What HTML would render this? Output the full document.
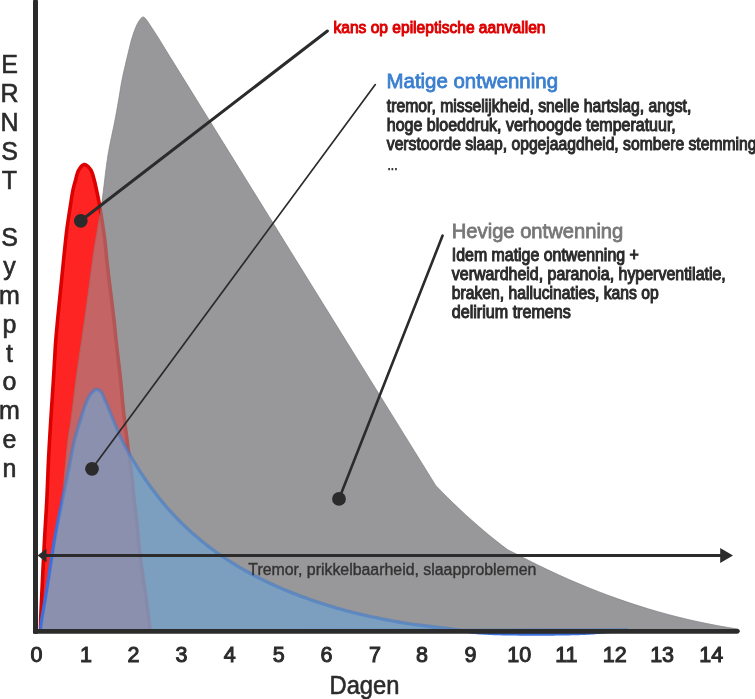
<!DOCTYPE html>
<html><head><meta charset="utf-8"><style>
html,body{margin:0;padding:0;background:#fff;}
body{width:755px;height:699px;position:relative;overflow:hidden;font-family:"Liberation Sans",sans-serif;}
</style></head><body>
<svg width="755" height="699" viewBox="0 0 755 699" style="position:absolute;left:0;top:0;display:block;will-change:transform">
<defs>
<clipPath id="cg"><path d="M41.50,631.00 L41.68,629.62 L41.84,628.31 L42.03,626.85 L42.30,625.00 L42.66,622.70 L43.11,619.95 L43.64,616.83 L44.24,613.39 L44.87,609.70 L45.54,605.84 L46.22,601.87 L46.90,597.87 L47.57,593.88 L48.20,590.00 L48.94,585.34 L49.69,580.48 L50.45,575.48 L51.21,570.37 L51.98,565.21 L52.76,560.03 L53.53,554.87 L54.29,549.78 L55.05,544.81 L55.80,540.00 L56.48,535.79 L57.18,531.62 L57.89,527.49 L58.59,523.41 L59.29,519.37 L59.97,515.38 L60.62,511.45 L61.24,507.57 L61.80,503.75 L62.30,500.00 L62.68,496.83 L63.01,493.73 L63.30,490.69 L63.56,487.70 L63.80,484.74 L64.03,481.80 L64.25,478.87 L64.48,475.93 L64.73,472.98 L65.00,470.00 L65.28,466.97 L65.57,463.90 L65.86,460.81 L66.14,457.70 L66.44,454.62 L66.73,451.56 L67.04,448.55 L67.35,445.61 L67.67,442.75 L68.00,440.00 L68.28,437.86 L68.56,435.85 L68.85,433.92 L69.14,432.04 L69.44,430.17 L69.74,428.30 L70.05,426.38 L70.36,424.38 L70.68,422.26 L71.00,420.00 L71.46,416.59 L71.91,413.01 L72.38,409.26 L72.85,405.38 L73.33,401.36 L73.83,397.24 L74.34,393.02 L74.87,388.73 L75.42,384.39 L76.00,380.00 L76.76,374.43 L77.58,368.58 L78.45,362.51 L79.35,356.29 L80.27,350.00 L81.19,343.71 L82.09,337.49 L82.98,331.42 L83.82,325.56 L84.60,320.00 L85.20,315.65 L85.78,311.39 L86.35,307.23 L86.90,303.14 L87.44,299.14 L87.96,295.20 L88.48,291.32 L88.99,287.50 L89.50,283.73 L90.00,280.00 L90.42,276.85 L90.83,273.82 L91.21,270.87 L91.60,267.98 L91.98,265.10 L92.36,262.22 L92.76,259.30 L93.18,256.31 L93.62,253.22 L94.10,250.00 L94.74,245.88 L95.43,241.62 L96.17,237.24 L96.93,232.77 L97.71,228.22 L98.50,223.61 L99.29,218.97 L100.05,214.30 L100.80,209.64 L101.50,205.00 L102.19,200.07 L102.85,195.03 L103.48,189.91 L104.10,184.76 L104.71,179.60 L105.32,174.48 L105.95,169.42 L106.59,164.46 L107.28,159.64 L108.00,155.00 L108.65,151.19 L109.35,147.43 L110.08,143.72 L110.82,140.07 L111.57,136.49 L112.32,132.99 L113.04,129.58 L113.74,126.28 L114.40,123.08 L115.00,120.00 L115.42,117.78 L115.82,115.65 L116.19,113.60 L116.55,111.60 L116.90,109.66 L117.24,107.74 L117.58,105.83 L117.92,103.91 L118.25,101.98 L118.60,100.00 L118.94,98.02 L119.26,96.06 L119.57,94.12 L119.88,92.19 L120.19,90.24 L120.51,88.28 L120.84,86.29 L121.20,84.25 L121.58,82.16 L122.00,80.00 L122.58,77.17 L123.24,74.12 L123.95,70.93 L124.70,67.65 L125.47,64.36 L126.23,61.12 L126.98,58.00 L127.68,55.06 L128.33,52.37 L128.90,50.00 L129.37,48.02 L129.79,46.26 L130.17,44.66 L130.55,43.13 L130.95,41.60 L131.40,40.00 L131.91,38.29 L132.46,36.53 L133.03,34.77 L133.60,33.07 L134.17,31.46 L134.70,30.00 L135.40,28.18 L136.07,26.57 L136.80,25.00 L137.55,23.44 L138.35,21.92 L139.30,20.50 L140.50,18.96 L141.85,17.53 L143.20,16.90 L144.50,17.54 L145.80,18.97 L147.00,20.50 L148.06,21.93 L149.02,23.45 L150.00,25.00 L151.05,26.58 L152.12,28.19 L153.30,30.00 L154.25,31.47 L155.29,33.07 L156.39,34.78 L157.51,36.53 L158.62,38.29 L159.70,40.00 L160.75,41.69 L161.81,43.42 L162.86,45.16 L163.89,46.85 L164.87,48.48 L165.80,50.00 L166.79,51.61 L167.71,53.10 L168.60,54.54 L169.50,56.00 L434.30,483.20 L435.70,485.44 L441.71,491.63 L447.72,497.67 L453.73,503.56 L459.73,509.30 L465.74,514.89 L471.75,520.33 L477.76,525.62 L483.77,530.76 L489.77,535.74 L495.78,540.58 L501.79,545.27 L507.80,549.81 L517.81,554.84 L527.82,560.02 L537.83,565.02 L547.83,569.85 L557.84,574.51 L567.85,578.99 L577.86,583.31 L587.87,587.45 L597.88,591.43 L607.89,595.23 L617.90,598.86 L627.90,602.32 L637.91,605.60 L647.92,608.72 L657.93,611.66 L667.94,614.44 L677.95,617.04 L687.96,619.47 L697.97,621.72 L707.97,623.81 L717.98,625.72 L727.99,627.47 L738.00,629.04 L739.50,631.00 Z"/></clipPath>
<mask id="mg" maskUnits="userSpaceOnUse" x="0" y="0" width="755" height="699"><rect width="755" height="699" fill="#fff"/><path d="M41.50,631.00 L41.68,629.62 L41.84,628.31 L42.03,626.85 L42.30,625.00 L42.66,622.70 L43.11,619.95 L43.64,616.83 L44.24,613.39 L44.87,609.70 L45.54,605.84 L46.22,601.87 L46.90,597.87 L47.57,593.88 L48.20,590.00 L48.94,585.34 L49.69,580.48 L50.45,575.48 L51.21,570.37 L51.98,565.21 L52.76,560.03 L53.53,554.87 L54.29,549.78 L55.05,544.81 L55.80,540.00 L56.48,535.79 L57.18,531.62 L57.89,527.49 L58.59,523.41 L59.29,519.37 L59.97,515.38 L60.62,511.45 L61.24,507.57 L61.80,503.75 L62.30,500.00 L62.68,496.83 L63.01,493.73 L63.30,490.69 L63.56,487.70 L63.80,484.74 L64.03,481.80 L64.25,478.87 L64.48,475.93 L64.73,472.98 L65.00,470.00 L65.28,466.97 L65.57,463.90 L65.86,460.81 L66.14,457.70 L66.44,454.62 L66.73,451.56 L67.04,448.55 L67.35,445.61 L67.67,442.75 L68.00,440.00 L68.28,437.86 L68.56,435.85 L68.85,433.92 L69.14,432.04 L69.44,430.17 L69.74,428.30 L70.05,426.38 L70.36,424.38 L70.68,422.26 L71.00,420.00 L71.46,416.59 L71.91,413.01 L72.38,409.26 L72.85,405.38 L73.33,401.36 L73.83,397.24 L74.34,393.02 L74.87,388.73 L75.42,384.39 L76.00,380.00 L76.76,374.43 L77.58,368.58 L78.45,362.51 L79.35,356.29 L80.27,350.00 L81.19,343.71 L82.09,337.49 L82.98,331.42 L83.82,325.56 L84.60,320.00 L85.20,315.65 L85.78,311.39 L86.35,307.23 L86.90,303.14 L87.44,299.14 L87.96,295.20 L88.48,291.32 L88.99,287.50 L89.50,283.73 L90.00,280.00 L90.42,276.85 L90.83,273.82 L91.21,270.87 L91.60,267.98 L91.98,265.10 L92.36,262.22 L92.76,259.30 L93.18,256.31 L93.62,253.22 L94.10,250.00 L94.74,245.88 L95.43,241.62 L96.17,237.24 L96.93,232.77 L97.71,228.22 L98.50,223.61 L99.29,218.97 L100.05,214.30 L100.80,209.64 L101.50,205.00 L102.19,200.07 L102.85,195.03 L103.48,189.91 L104.10,184.76 L104.71,179.60 L105.32,174.48 L105.95,169.42 L106.59,164.46 L107.28,159.64 L108.00,155.00 L108.65,151.19 L109.35,147.43 L110.08,143.72 L110.82,140.07 L111.57,136.49 L112.32,132.99 L113.04,129.58 L113.74,126.28 L114.40,123.08 L115.00,120.00 L115.42,117.78 L115.82,115.65 L116.19,113.60 L116.55,111.60 L116.90,109.66 L117.24,107.74 L117.58,105.83 L117.92,103.91 L118.25,101.98 L118.60,100.00 L118.94,98.02 L119.26,96.06 L119.57,94.12 L119.88,92.19 L120.19,90.24 L120.51,88.28 L120.84,86.29 L121.20,84.25 L121.58,82.16 L122.00,80.00 L122.58,77.17 L123.24,74.12 L123.95,70.93 L124.70,67.65 L125.47,64.36 L126.23,61.12 L126.98,58.00 L127.68,55.06 L128.33,52.37 L128.90,50.00 L129.37,48.02 L129.79,46.26 L130.17,44.66 L130.55,43.13 L130.95,41.60 L131.40,40.00 L131.91,38.29 L132.46,36.53 L133.03,34.77 L133.60,33.07 L134.17,31.46 L134.70,30.00 L135.40,28.18 L136.07,26.57 L136.80,25.00 L137.55,23.44 L138.35,21.92 L139.30,20.50 L140.50,18.96 L141.85,17.53 L143.20,16.90 L144.50,17.54 L145.80,18.97 L147.00,20.50 L148.06,21.93 L149.02,23.45 L150.00,25.00 L151.05,26.58 L152.12,28.19 L153.30,30.00 L154.25,31.47 L155.29,33.07 L156.39,34.78 L157.51,36.53 L158.62,38.29 L159.70,40.00 L160.75,41.69 L161.81,43.42 L162.86,45.16 L163.89,46.85 L164.87,48.48 L165.80,50.00 L166.79,51.61 L167.71,53.10 L168.60,54.54 L169.50,56.00 L434.30,483.20 L435.70,485.44 L441.71,491.63 L447.72,497.67 L453.73,503.56 L459.73,509.30 L465.74,514.89 L471.75,520.33 L477.76,525.62 L483.77,530.76 L489.77,535.74 L495.78,540.58 L501.79,545.27 L507.80,549.81 L517.81,554.84 L527.82,560.02 L537.83,565.02 L547.83,569.85 L557.84,574.51 L567.85,578.99 L577.86,583.31 L587.87,587.45 L597.88,591.43 L607.89,595.23 L617.90,598.86 L627.90,602.32 L637.91,605.60 L647.92,608.72 L657.93,611.66 L667.94,614.44 L677.95,617.04 L687.96,619.47 L697.97,621.72 L707.97,623.81 L717.98,625.72 L727.99,627.47 L738.00,629.04 L739.50,631.00 Z" fill="#000"/></mask>
</defs>
<path id="red" d="M40.50,631.00 L40.49,629.62 L40.48,628.31 L40.47,626.85 L40.50,625.00 L40.56,622.70 L40.66,619.96 L40.78,616.83 L40.92,613.39 L41.08,609.70 L41.26,605.84 L41.44,601.87 L41.63,597.86 L41.82,593.88 L42.00,590.00 L42.22,585.33 L42.45,580.48 L42.69,575.48 L42.94,570.37 L43.20,565.21 L43.46,560.02 L43.72,554.87 L43.98,549.78 L44.24,544.81 L44.50,540.00 L44.73,535.82 L44.97,531.71 L45.20,527.67 L45.44,523.68 L45.68,519.72 L45.92,515.79 L46.15,511.86 L46.38,507.93 L46.59,503.98 L46.80,500.00 L47.00,495.94 L47.18,491.78 L47.36,487.57 L47.53,483.34 L47.70,479.14 L47.86,475.01 L48.02,470.99 L48.18,467.12 L48.34,463.44 L48.50,460.00 L48.61,457.72 L48.72,455.56 L48.83,453.49 L48.94,451.51 L49.05,449.57 L49.16,447.67 L49.27,445.78 L49.37,443.89 L49.49,441.97 L49.60,440.00 L49.71,438.03 L49.83,436.11 L49.94,434.22 L50.05,432.33 L50.16,430.43 L50.28,428.49 L50.40,426.50 L50.52,424.44 L50.66,422.28 L50.80,420.00 L51.02,416.49 L51.27,412.66 L51.54,408.58 L51.81,404.33 L52.10,400.00 L52.39,395.67 L52.66,391.42 L52.93,387.34 L53.18,383.51 L53.40,380.00 L53.54,377.72 L53.67,375.56 L53.80,373.50 L53.92,371.51 L54.03,369.57 L54.15,367.67 L54.26,365.78 L54.37,363.89 L54.48,361.97 L54.60,360.00 L54.71,358.05 L54.81,356.19 L54.91,354.38 L55.00,352.58 L55.09,350.76 L55.20,348.87 L55.32,346.89 L55.45,344.77 L55.61,342.49 L55.80,340.00 L56.26,334.53 L56.84,328.04 L57.53,320.78 L58.28,313.02 L59.08,305.00 L59.88,296.98 L60.67,289.21 L61.40,281.96 L62.05,275.47 L62.60,270.00 L62.85,267.51 L63.07,265.22 L63.28,263.11 L63.47,261.13 L63.66,259.24 L63.84,257.42 L64.02,255.62 L64.21,253.81 L64.40,251.94 L64.60,250.00 L64.81,248.01 L65.01,246.03 L65.21,244.07 L65.42,242.10 L65.62,240.14 L65.84,238.16 L66.06,236.16 L66.29,234.14 L66.54,232.09 L66.80,230.00 L67.12,227.58 L67.47,225.07 L67.83,222.50 L68.21,219.89 L68.60,217.27 L69.00,214.67 L69.39,212.12 L69.77,209.64 L70.15,207.25 L70.50,205.00 L70.82,202.92 L71.13,200.91 L71.43,198.96 L71.73,197.06 L72.02,195.23 L72.33,193.44 L72.66,191.70 L73.00,190.00 L73.40,188.21 L73.81,186.51 L74.23,184.86 L74.67,183.25 L75.13,181.64 L75.60,180.00 L76.06,178.28 L76.50,176.52 L76.95,174.75 L77.46,173.04 L78.06,171.44 L78.80,170.00 L79.98,168.18 L81.35,166.42 L82.82,165.08 L84.30,164.50 L85.87,164.92 L87.54,166.11 L89.13,167.75 L90.50,169.50 L91.36,170.96 L92.07,172.63 L92.68,174.44 L93.21,176.32 L93.71,178.20 L94.20,180.00 L94.65,181.65 L95.05,183.26 L95.42,184.88 L95.77,186.52 L96.12,188.22 L96.50,190.00 L96.86,191.68 L97.23,193.39 L97.59,195.12 L97.96,196.91 L98.34,198.77 L98.72,200.73 L99.11,202.80 L99.50,205.00 L100.01,207.95 L100.55,211.21 L101.12,214.72 L101.70,218.40 L102.28,222.18 L102.85,225.99 L103.40,229.75 L103.92,233.38 L104.39,236.82 L104.80,240.00 L105.07,242.22 L105.30,244.35 L105.52,246.40 L105.71,248.40 L105.89,250.34 L106.06,252.26 L106.23,254.17 L106.41,256.09 L106.60,258.03 L106.80,260.00 L107.01,261.97 L107.23,263.89 L107.44,265.79 L107.65,267.67 L107.87,269.57 L108.10,271.51 L108.33,273.50 L108.57,275.56 L108.83,277.72 L109.10,280.00 L109.52,283.51 L110.00,287.34 L110.50,291.42 L111.04,295.67 L111.58,300.00 L112.12,304.33 L112.65,308.57 L113.14,312.66 L113.60,316.49 L114.00,320.00 L114.25,322.28 L114.47,324.44 L114.68,326.50 L114.87,328.49 L115.06,330.43 L115.24,332.33 L115.42,334.22 L115.60,336.11 L115.79,338.03 L116.00,340.00 L116.22,342.00 L116.44,344.00 L116.67,346.00 L116.90,348.00 L117.13,350.00 L117.37,352.00 L117.60,354.00 L117.84,356.00 L118.07,358.00 L118.30,360.00 L118.53,361.98 L118.76,363.93 L118.99,365.87 L119.22,367.80 L119.45,369.75 L119.68,371.71 L119.91,373.70 L120.14,375.74 L120.37,377.84 L120.60,380.00 L120.88,382.75 L121.15,385.61 L121.42,388.55 L121.68,391.56 L121.95,394.62 L122.22,397.71 L122.50,400.81 L122.79,403.91 L123.09,406.97 L123.40,410.00 L123.72,412.98 L124.05,415.93 L124.39,418.87 L124.74,421.80 L125.09,424.74 L125.46,427.69 L125.83,430.69 L126.21,433.73 L126.60,436.83 L127.00,440.00 L127.49,443.83 L128.03,447.85 L128.60,452.01 L129.18,456.24 L129.76,460.50 L130.34,464.71 L130.90,468.82 L131.42,472.78 L131.89,476.53 L132.30,480.00 L132.55,482.28 L132.77,484.44 L132.97,486.50 L133.15,488.49 L133.31,490.43 L133.48,492.33 L133.64,494.22 L133.81,496.11 L134.00,498.03 L134.20,500.00 L134.42,501.98 L134.65,503.91 L134.88,505.83 L135.12,507.73 L135.36,509.65 L135.61,511.60 L135.85,513.59 L136.10,515.64 L136.35,517.77 L136.60,520.00 L136.92,523.09 L137.23,526.31 L137.54,529.65 L137.84,533.09 L138.15,536.62 L138.48,540.22 L138.82,543.88 L139.18,547.57 L139.57,551.28 L140.00,555.00 L140.54,559.31 L141.14,563.78 L141.78,568.35 L142.46,573.00 L143.16,577.67 L143.85,582.33 L144.54,586.94 L145.20,591.44 L145.83,595.81 L146.40,600.00 L146.84,603.33 L147.25,606.57 L147.64,609.72 L148.02,612.81 L148.39,615.86 L148.75,618.87 L149.10,621.88 L149.46,624.89 L149.83,627.93 L150.20,631.00 Z" fill="#ff2424" stroke="#dc0000" stroke-width="3.6" stroke-linejoin="round"/>
<path d="M41.50,631.00 L41.68,629.62 L41.84,628.31 L42.03,626.85 L42.30,625.00 L42.66,622.70 L43.11,619.95 L43.64,616.83 L44.24,613.39 L44.87,609.70 L45.54,605.84 L46.22,601.87 L46.90,597.87 L47.57,593.88 L48.20,590.00 L48.94,585.34 L49.69,580.48 L50.45,575.48 L51.21,570.37 L51.98,565.21 L52.76,560.03 L53.53,554.87 L54.29,549.78 L55.05,544.81 L55.80,540.00 L56.48,535.79 L57.18,531.62 L57.89,527.49 L58.59,523.41 L59.29,519.37 L59.97,515.38 L60.62,511.45 L61.24,507.57 L61.80,503.75 L62.30,500.00 L62.68,496.83 L63.01,493.73 L63.30,490.69 L63.56,487.70 L63.80,484.74 L64.03,481.80 L64.25,478.87 L64.48,475.93 L64.73,472.98 L65.00,470.00 L65.28,466.97 L65.57,463.90 L65.86,460.81 L66.14,457.70 L66.44,454.62 L66.73,451.56 L67.04,448.55 L67.35,445.61 L67.67,442.75 L68.00,440.00 L68.28,437.86 L68.56,435.85 L68.85,433.92 L69.14,432.04 L69.44,430.17 L69.74,428.30 L70.05,426.38 L70.36,424.38 L70.68,422.26 L71.00,420.00 L71.46,416.59 L71.91,413.01 L72.38,409.26 L72.85,405.38 L73.33,401.36 L73.83,397.24 L74.34,393.02 L74.87,388.73 L75.42,384.39 L76.00,380.00 L76.76,374.43 L77.58,368.58 L78.45,362.51 L79.35,356.29 L80.27,350.00 L81.19,343.71 L82.09,337.49 L82.98,331.42 L83.82,325.56 L84.60,320.00 L85.20,315.65 L85.78,311.39 L86.35,307.23 L86.90,303.14 L87.44,299.14 L87.96,295.20 L88.48,291.32 L88.99,287.50 L89.50,283.73 L90.00,280.00 L90.42,276.85 L90.83,273.82 L91.21,270.87 L91.60,267.98 L91.98,265.10 L92.36,262.22 L92.76,259.30 L93.18,256.31 L93.62,253.22 L94.10,250.00 L94.74,245.88 L95.43,241.62 L96.17,237.24 L96.93,232.77 L97.71,228.22 L98.50,223.61 L99.29,218.97 L100.05,214.30 L100.80,209.64 L101.50,205.00 L102.19,200.07 L102.85,195.03 L103.48,189.91 L104.10,184.76 L104.71,179.60 L105.32,174.48 L105.95,169.42 L106.59,164.46 L107.28,159.64 L108.00,155.00 L108.65,151.19 L109.35,147.43 L110.08,143.72 L110.82,140.07 L111.57,136.49 L112.32,132.99 L113.04,129.58 L113.74,126.28 L114.40,123.08 L115.00,120.00 L115.42,117.78 L115.82,115.65 L116.19,113.60 L116.55,111.60 L116.90,109.66 L117.24,107.74 L117.58,105.83 L117.92,103.91 L118.25,101.98 L118.60,100.00 L118.94,98.02 L119.26,96.06 L119.57,94.12 L119.88,92.19 L120.19,90.24 L120.51,88.28 L120.84,86.29 L121.20,84.25 L121.58,82.16 L122.00,80.00 L122.58,77.17 L123.24,74.12 L123.95,70.93 L124.70,67.65 L125.47,64.36 L126.23,61.12 L126.98,58.00 L127.68,55.06 L128.33,52.37 L128.90,50.00 L129.37,48.02 L129.79,46.26 L130.17,44.66 L130.55,43.13 L130.95,41.60 L131.40,40.00 L131.91,38.29 L132.46,36.53 L133.03,34.77 L133.60,33.07 L134.17,31.46 L134.70,30.00 L135.40,28.18 L136.07,26.57 L136.80,25.00 L137.55,23.44 L138.35,21.92 L139.30,20.50 L140.50,18.96 L141.85,17.53 L143.20,16.90 L144.50,17.54 L145.80,18.97 L147.00,20.50 L148.06,21.93 L149.02,23.45 L150.00,25.00 L151.05,26.58 L152.12,28.19 L153.30,30.00 L154.25,31.47 L155.29,33.07 L156.39,34.78 L157.51,36.53 L158.62,38.29 L159.70,40.00 L160.75,41.69 L161.81,43.42 L162.86,45.16 L163.89,46.85 L164.87,48.48 L165.80,50.00 L166.79,51.61 L167.71,53.10 L168.60,54.54 L169.50,56.00 L434.30,483.20 L435.70,485.44 L441.71,491.63 L447.72,497.67 L453.73,503.56 L459.73,509.30 L465.74,514.89 L471.75,520.33 L477.76,525.62 L483.77,530.76 L489.77,535.74 L495.78,540.58 L501.79,545.27 L507.80,549.81 L517.81,554.84 L527.82,560.02 L537.83,565.02 L547.83,569.85 L557.84,574.51 L567.85,578.99 L577.86,583.31 L587.87,587.45 L597.88,591.43 L607.89,595.23 L617.90,598.86 L627.90,602.32 L637.91,605.60 L647.92,608.72 L657.93,611.66 L667.94,614.44 L677.95,617.04 L687.96,619.47 L697.97,621.72 L707.97,623.81 L717.98,625.72 L727.99,627.47 L738.00,629.04 L739.50,631.00 Z" fill="#98989a" stroke="#808082" stroke-width="0.7"/>
<g clip-path="url(#cg)"><path d="M40.50,631.00 L40.49,629.62 L40.48,628.31 L40.47,626.85 L40.50,625.00 L40.56,622.70 L40.66,619.96 L40.78,616.83 L40.92,613.39 L41.08,609.70 L41.26,605.84 L41.44,601.87 L41.63,597.86 L41.82,593.88 L42.00,590.00 L42.22,585.33 L42.45,580.48 L42.69,575.48 L42.94,570.37 L43.20,565.21 L43.46,560.02 L43.72,554.87 L43.98,549.78 L44.24,544.81 L44.50,540.00 L44.73,535.82 L44.97,531.71 L45.20,527.67 L45.44,523.68 L45.68,519.72 L45.92,515.79 L46.15,511.86 L46.38,507.93 L46.59,503.98 L46.80,500.00 L47.00,495.94 L47.18,491.78 L47.36,487.57 L47.53,483.34 L47.70,479.14 L47.86,475.01 L48.02,470.99 L48.18,467.12 L48.34,463.44 L48.50,460.00 L48.61,457.72 L48.72,455.56 L48.83,453.49 L48.94,451.51 L49.05,449.57 L49.16,447.67 L49.27,445.78 L49.37,443.89 L49.49,441.97 L49.60,440.00 L49.71,438.03 L49.83,436.11 L49.94,434.22 L50.05,432.33 L50.16,430.43 L50.28,428.49 L50.40,426.50 L50.52,424.44 L50.66,422.28 L50.80,420.00 L51.02,416.49 L51.27,412.66 L51.54,408.58 L51.81,404.33 L52.10,400.00 L52.39,395.67 L52.66,391.42 L52.93,387.34 L53.18,383.51 L53.40,380.00 L53.54,377.72 L53.67,375.56 L53.80,373.50 L53.92,371.51 L54.03,369.57 L54.15,367.67 L54.26,365.78 L54.37,363.89 L54.48,361.97 L54.60,360.00 L54.71,358.05 L54.81,356.19 L54.91,354.38 L55.00,352.58 L55.09,350.76 L55.20,348.87 L55.32,346.89 L55.45,344.77 L55.61,342.49 L55.80,340.00 L56.26,334.53 L56.84,328.04 L57.53,320.78 L58.28,313.02 L59.08,305.00 L59.88,296.98 L60.67,289.21 L61.40,281.96 L62.05,275.47 L62.60,270.00 L62.85,267.51 L63.07,265.22 L63.28,263.11 L63.47,261.13 L63.66,259.24 L63.84,257.42 L64.02,255.62 L64.21,253.81 L64.40,251.94 L64.60,250.00 L64.81,248.01 L65.01,246.03 L65.21,244.07 L65.42,242.10 L65.62,240.14 L65.84,238.16 L66.06,236.16 L66.29,234.14 L66.54,232.09 L66.80,230.00 L67.12,227.58 L67.47,225.07 L67.83,222.50 L68.21,219.89 L68.60,217.27 L69.00,214.67 L69.39,212.12 L69.77,209.64 L70.15,207.25 L70.50,205.00 L70.82,202.92 L71.13,200.91 L71.43,198.96 L71.73,197.06 L72.02,195.23 L72.33,193.44 L72.66,191.70 L73.00,190.00 L73.40,188.21 L73.81,186.51 L74.23,184.86 L74.67,183.25 L75.13,181.64 L75.60,180.00 L76.06,178.28 L76.50,176.52 L76.95,174.75 L77.46,173.04 L78.06,171.44 L78.80,170.00 L79.98,168.18 L81.35,166.42 L82.82,165.08 L84.30,164.50 L85.87,164.92 L87.54,166.11 L89.13,167.75 L90.50,169.50 L91.36,170.96 L92.07,172.63 L92.68,174.44 L93.21,176.32 L93.71,178.20 L94.20,180.00 L94.65,181.65 L95.05,183.26 L95.42,184.88 L95.77,186.52 L96.12,188.22 L96.50,190.00 L96.86,191.68 L97.23,193.39 L97.59,195.12 L97.96,196.91 L98.34,198.77 L98.72,200.73 L99.11,202.80 L99.50,205.00 L100.01,207.95 L100.55,211.21 L101.12,214.72 L101.70,218.40 L102.28,222.18 L102.85,225.99 L103.40,229.75 L103.92,233.38 L104.39,236.82 L104.80,240.00 L105.07,242.22 L105.30,244.35 L105.52,246.40 L105.71,248.40 L105.89,250.34 L106.06,252.26 L106.23,254.17 L106.41,256.09 L106.60,258.03 L106.80,260.00 L107.01,261.97 L107.23,263.89 L107.44,265.79 L107.65,267.67 L107.87,269.57 L108.10,271.51 L108.33,273.50 L108.57,275.56 L108.83,277.72 L109.10,280.00 L109.52,283.51 L110.00,287.34 L110.50,291.42 L111.04,295.67 L111.58,300.00 L112.12,304.33 L112.65,308.57 L113.14,312.66 L113.60,316.49 L114.00,320.00 L114.25,322.28 L114.47,324.44 L114.68,326.50 L114.87,328.49 L115.06,330.43 L115.24,332.33 L115.42,334.22 L115.60,336.11 L115.79,338.03 L116.00,340.00 L116.22,342.00 L116.44,344.00 L116.67,346.00 L116.90,348.00 L117.13,350.00 L117.37,352.00 L117.60,354.00 L117.84,356.00 L118.07,358.00 L118.30,360.00 L118.53,361.98 L118.76,363.93 L118.99,365.87 L119.22,367.80 L119.45,369.75 L119.68,371.71 L119.91,373.70 L120.14,375.74 L120.37,377.84 L120.60,380.00 L120.88,382.75 L121.15,385.61 L121.42,388.55 L121.68,391.56 L121.95,394.62 L122.22,397.71 L122.50,400.81 L122.79,403.91 L123.09,406.97 L123.40,410.00 L123.72,412.98 L124.05,415.93 L124.39,418.87 L124.74,421.80 L125.09,424.74 L125.46,427.69 L125.83,430.69 L126.21,433.73 L126.60,436.83 L127.00,440.00 L127.49,443.83 L128.03,447.85 L128.60,452.01 L129.18,456.24 L129.76,460.50 L130.34,464.71 L130.90,468.82 L131.42,472.78 L131.89,476.53 L132.30,480.00 L132.55,482.28 L132.77,484.44 L132.97,486.50 L133.15,488.49 L133.31,490.43 L133.48,492.33 L133.64,494.22 L133.81,496.11 L134.00,498.03 L134.20,500.00 L134.42,501.98 L134.65,503.91 L134.88,505.83 L135.12,507.73 L135.36,509.65 L135.61,511.60 L135.85,513.59 L136.10,515.64 L136.35,517.77 L136.60,520.00 L136.92,523.09 L137.23,526.31 L137.54,529.65 L137.84,533.09 L138.15,536.62 L138.48,540.22 L138.82,543.88 L139.18,547.57 L139.57,551.28 L140.00,555.00 L140.54,559.31 L141.14,563.78 L141.78,568.35 L142.46,573.00 L143.16,577.67 L143.85,582.33 L144.54,586.94 L145.20,591.44 L145.83,595.81 L146.40,600.00 L146.84,603.33 L147.25,606.57 L147.64,609.72 L148.02,612.81 L148.39,615.86 L148.75,618.87 L149.10,621.88 L149.46,624.89 L149.83,627.93 L150.20,631.00 Z" fill="#ff2424" stroke="#d80000" stroke-width="3.6" opacity="0.44"/></g>
<path d="M41.00,631.00 L40.99,629.61 L40.97,628.31 L40.98,626.84 L41.10,625.00 L41.35,622.70 L41.73,619.95 L42.22,616.82 L42.79,613.38 L43.42,609.70 L44.09,605.84 L44.79,601.87 L45.49,597.86 L46.16,593.88 L46.80,590.00 L47.53,585.34 L48.28,580.48 L49.03,575.48 L49.80,570.37 L50.57,565.20 L51.36,560.02 L52.16,554.86 L52.96,549.78 L53.78,544.81 L54.60,540.00 L55.35,535.79 L56.12,531.61 L56.91,527.48 L57.70,523.39 L58.50,519.35 L59.30,515.36 L60.10,511.43 L60.88,507.56 L61.65,503.75 L62.40,500.00 L63.04,496.82 L63.66,493.72 L64.28,490.68 L64.89,487.69 L65.49,484.73 L66.10,481.79 L66.70,478.86 L67.30,475.93 L67.90,472.98 L68.50,470.00 L69.10,466.97 L69.69,463.90 L70.27,460.80 L70.85,457.70 L71.44,454.61 L72.02,451.55 L72.62,448.54 L73.23,445.60 L73.85,442.74 L74.50,440.00 L75.06,437.79 L75.64,435.61 L76.23,433.47 L76.84,431.36 L77.45,429.30 L78.05,427.30 L78.65,425.36 L79.22,423.49 L79.78,421.70 L80.30,420.00 L80.87,418.13 L81.41,416.41 L81.92,414.78 L82.43,413.20 L82.95,411.62 L83.50,410.00 L84.08,408.30 L84.66,406.57 L85.26,404.84 L85.88,403.15 L86.53,401.52 L87.20,400.00 L88.07,398.20 L88.96,396.51 L89.92,394.93 L91.00,393.50 L92.15,392.19 L93.40,390.93 L94.71,389.92 L96.00,389.40 L97.46,389.46 L98.93,390.03 L100.30,391.00 L101.21,392.03 L102.04,393.39 L102.81,394.96 L103.55,396.66 L104.27,398.37 L105.00,400.00 L105.75,401.63 L106.49,403.28 L107.20,404.95 L107.91,406.64 L108.61,408.32 L109.30,410.00 L109.98,411.66 L110.64,413.33 L111.30,415.00 L111.96,416.67 L112.62,418.34 L113.30,420.00 L114.00,421.67 L114.71,423.34 L115.43,425.00 L116.15,426.67 L116.88,428.33 L117.60,430.00 L118.31,431.66 L118.99,433.31 L119.68,434.95 L120.39,436.62 L121.16,438.33 L122.00,440.11 L122.76,441.64 L123.56,443.21 L124.41,444.82 L125.29,446.46 L126.20,448.12 L127.13,449.80 L128.08,451.49 L129.04,453.18 L130.00,454.86 L130.93,456.48 L131.88,458.11 L132.85,459.75 L133.83,461.40 L134.82,463.06 L135.83,464.72 L136.85,466.38 L137.88,468.04 L138.94,469.70 L140.00,471.36 L141.13,473.10 L142.27,474.84 L143.44,476.58 L144.61,478.32 L145.80,480.07 L147.01,481.81 L148.24,483.56 L149.47,485.29 L150.73,487.03 L152.00,488.75 L153.33,490.52 L154.67,492.29 L156.03,494.06 L157.40,495.83 L158.79,497.59 L160.20,499.34 L161.63,501.09 L163.07,502.83 L164.53,504.56 L166.00,506.28 L167.52,508.03 L169.06,509.77 L170.62,511.50 L172.20,513.23 L173.79,514.95 L175.40,516.65 L177.02,518.35 L178.67,520.04 L180.32,521.71 L182.00,523.37 L183.72,525.05 L185.46,526.71 L187.22,528.37 L189.00,530.01 L190.79,531.65 L192.60,533.27 L194.42,534.87 L196.27,536.47 L198.13,538.05 L200.00,539.61 L201.92,541.18 L203.84,542.74 L205.78,544.28 L207.74,545.80 L209.71,547.31 L211.71,548.81 L213.73,550.30 L215.79,551.79 L217.87,553.27 L220.00,554.75 L222.35,556.35 L224.73,557.95 L227.15,559.55 L229.61,561.13 L232.10,562.71 L234.62,564.28 L237.17,565.83 L239.75,567.37 L242.36,568.90 L245.00,570.40 L247.85,571.99 L250.73,573.57 L253.66,575.13 L256.61,576.67 L259.60,578.20 L262.62,579.71 L265.67,581.20 L268.76,582.68 L271.86,584.13 L275.00,585.56 L278.35,587.05 L281.74,588.52 L285.16,589.98 L288.62,591.41 L292.11,592.81 L295.63,594.20 L299.18,595.56 L302.76,596.90 L306.37,598.21 L310.00,599.50 L313.85,600.83 L317.72,602.13 L321.61,603.41 L325.53,604.66 L329.49,605.88 L333.49,607.08 L337.53,608.26 L341.63,609.41 L345.78,610.54 L350.00,611.64 L354.75,612.84 L359.61,614.02 L364.54,615.17 L369.55,616.29 L374.60,617.38 L379.68,618.44 L384.78,619.46 L389.88,620.44 L394.96,621.37 L400.00,622.25 L405.06,623.07 L410.25,623.84 L415.52,624.56 L420.80,625.23 L426.05,625.87 L431.22,626.48 L436.25,627.07 L441.09,627.64 L445.69,628.21 L450.00,628.77 L452.85,629.17 L455.55,629.57 L458.13,629.97 L460.61,630.35 L463.03,630.73 L465.41,631.09 L467.76,631.43 L470.13,631.75 L472.53,632.04 L475.00,632.30 L477.47,632.52 L479.90,632.72 L482.31,632.88 L484.71,633.02 L487.13,633.14 L489.57,633.25 L492.07,633.34 L494.62,633.43 L497.26,633.52 L500.00,633.60 L503.67,633.70 L507.59,633.78 L511.68,633.85 L515.89,633.90 L520.16,633.93 L524.40,633.96 L528.58,633.98 L532.61,633.99 L536.44,634.00 L540.00,634.00 L542.46,634.00 L544.81,633.99 L547.06,633.98 L549.25,633.97 L551.38,633.95 L553.48,633.93 L555.57,633.90 L557.67,633.87 L559.81,633.84 L562.00,633.80 L564.29,633.76 L566.59,633.72 L568.91,633.68 L571.24,633.63 L573.57,633.58 L575.89,633.53 L578.20,633.46 L580.50,633.39 L582.76,633.30 L585.00,633.20 L587.05,633.09 L589.08,632.98 L591.07,632.85 L593.06,632.71 L595.03,632.57 L597.00,632.42 L598.98,632.27 L600.96,632.11 L602.97,631.96 L605.00,631.80 L607.16,631.63 L609.33,631.46 L611.52,631.28 L613.73,631.10 L615.94,630.92 L618.15,630.74 L620.37,630.55 L622.58,630.37 L624.80,630.18 L627.00,630.00 Z" fill="rgb(114,163,206)" fill-opacity="0.7" stroke="none"/>
<g clip-path="url(#cg)"><path d="M41.00,631.00 L40.99,629.61 L40.97,628.31 L40.98,626.84 L41.10,625.00 L41.35,622.70 L41.73,619.95 L42.22,616.82 L42.79,613.38 L43.42,609.70 L44.09,605.84 L44.79,601.87 L45.49,597.86 L46.16,593.88 L46.80,590.00 L47.53,585.34 L48.28,580.48 L49.03,575.48 L49.80,570.37 L50.57,565.20 L51.36,560.02 L52.16,554.86 L52.96,549.78 L53.78,544.81 L54.60,540.00 L55.35,535.79 L56.12,531.61 L56.91,527.48 L57.70,523.39 L58.50,519.35 L59.30,515.36 L60.10,511.43 L60.88,507.56 L61.65,503.75 L62.40,500.00 L63.04,496.82 L63.66,493.72 L64.28,490.68 L64.89,487.69 L65.49,484.73 L66.10,481.79 L66.70,478.86 L67.30,475.93 L67.90,472.98 L68.50,470.00 L69.10,466.97 L69.69,463.90 L70.27,460.80 L70.85,457.70 L71.44,454.61 L72.02,451.55 L72.62,448.54 L73.23,445.60 L73.85,442.74 L74.50,440.00 L75.06,437.79 L75.64,435.61 L76.23,433.47 L76.84,431.36 L77.45,429.30 L78.05,427.30 L78.65,425.36 L79.22,423.49 L79.78,421.70 L80.30,420.00 L80.87,418.13 L81.41,416.41 L81.92,414.78 L82.43,413.20 L82.95,411.62 L83.50,410.00 L84.08,408.30 L84.66,406.57 L85.26,404.84 L85.88,403.15 L86.53,401.52 L87.20,400.00 L88.07,398.20 L88.96,396.51 L89.92,394.93 L91.00,393.50 L92.15,392.19 L93.40,390.93 L94.71,389.92 L96.00,389.40 L97.46,389.46 L98.93,390.03 L100.30,391.00 L101.21,392.03 L102.04,393.39 L102.81,394.96 L103.55,396.66 L104.27,398.37 L105.00,400.00 L105.75,401.63 L106.49,403.28 L107.20,404.95 L107.91,406.64 L108.61,408.32 L109.30,410.00 L109.98,411.66 L110.64,413.33 L111.30,415.00 L111.96,416.67 L112.62,418.34 L113.30,420.00 L114.00,421.67 L114.71,423.34 L115.43,425.00 L116.15,426.67 L116.88,428.33 L117.60,430.00 L118.31,431.66 L118.99,433.31 L119.68,434.95 L120.39,436.62 L121.16,438.33 L122.00,440.11 L122.76,441.64 L123.56,443.21 L124.41,444.82 L125.29,446.46 L126.20,448.12 L127.13,449.80 L128.08,451.49 L129.04,453.18 L130.00,454.86 L130.93,456.48 L131.88,458.11 L132.85,459.75 L133.83,461.40 L134.82,463.06 L135.83,464.72 L136.85,466.38 L137.88,468.04 L138.94,469.70 L140.00,471.36 L141.13,473.10 L142.27,474.84 L143.44,476.58 L144.61,478.32 L145.80,480.07 L147.01,481.81 L148.24,483.56 L149.47,485.29 L150.73,487.03 L152.00,488.75 L153.33,490.52 L154.67,492.29 L156.03,494.06 L157.40,495.83 L158.79,497.59 L160.20,499.34 L161.63,501.09 L163.07,502.83 L164.53,504.56 L166.00,506.28 L167.52,508.03 L169.06,509.77 L170.62,511.50 L172.20,513.23 L173.79,514.95 L175.40,516.65 L177.02,518.35 L178.67,520.04 L180.32,521.71 L182.00,523.37 L183.72,525.05 L185.46,526.71 L187.22,528.37 L189.00,530.01 L190.79,531.65 L192.60,533.27 L194.42,534.87 L196.27,536.47 L198.13,538.05 L200.00,539.61 L201.92,541.18 L203.84,542.74 L205.78,544.28 L207.74,545.80 L209.71,547.31 L211.71,548.81 L213.73,550.30 L215.79,551.79 L217.87,553.27 L220.00,554.75 L222.35,556.35 L224.73,557.95 L227.15,559.55 L229.61,561.13 L232.10,562.71 L234.62,564.28 L237.17,565.83 L239.75,567.37 L242.36,568.90 L245.00,570.40 L247.85,571.99 L250.73,573.57 L253.66,575.13 L256.61,576.67 L259.60,578.20 L262.62,579.71 L265.67,581.20 L268.76,582.68 L271.86,584.13 L275.00,585.56 L278.35,587.05 L281.74,588.52 L285.16,589.98 L288.62,591.41 L292.11,592.81 L295.63,594.20 L299.18,595.56 L302.76,596.90 L306.37,598.21 L310.00,599.50 L313.85,600.83 L317.72,602.13 L321.61,603.41 L325.53,604.66 L329.49,605.88 L333.49,607.08 L337.53,608.26 L341.63,609.41 L345.78,610.54 L350.00,611.64 L354.75,612.84 L359.61,614.02 L364.54,615.17 L369.55,616.29 L374.60,617.38 L379.68,618.44 L384.78,619.46 L389.88,620.44 L394.96,621.37 L400.00,622.25 L405.06,623.07 L410.25,623.84 L415.52,624.56 L420.80,625.23 L426.05,625.87 L431.22,626.48 L436.25,627.07 L441.09,627.64 L445.69,628.21 L450.00,628.77 L452.85,629.17 L455.55,629.57 L458.13,629.97 L460.61,630.35 L463.03,630.73 L465.41,631.09 L467.76,631.43 L470.13,631.75 L472.53,632.04 L475.00,632.30 L477.47,632.52 L479.90,632.72 L482.31,632.88 L484.71,633.02 L487.13,633.14 L489.57,633.25 L492.07,633.34 L494.62,633.43 L497.26,633.52 L500.00,633.60 L503.67,633.70 L507.59,633.78 L511.68,633.85 L515.89,633.90 L520.16,633.93 L524.40,633.96 L528.58,633.98 L532.61,633.99 L536.44,634.00 L540.00,634.00 L542.46,634.00 L544.81,633.99 L547.06,633.98 L549.25,633.97 L551.38,633.95 L553.48,633.93 L555.57,633.90 L557.67,633.87 L559.81,633.84 L562.00,633.80 L564.29,633.76 L566.59,633.72 L568.91,633.68 L571.24,633.63 L573.57,633.58 L575.89,633.53 L578.20,633.46 L580.50,633.39 L582.76,633.30 L585.00,633.20 L587.05,633.09 L589.08,632.98 L591.07,632.85 L593.06,632.71 L595.03,632.57 L597.00,632.42 L598.98,632.27 L600.96,632.11 L602.97,631.96 L605.00,631.80 L607.16,631.63 L609.33,631.46 L611.52,631.28 L613.73,631.10 L615.94,630.92 L618.15,630.74 L620.37,630.55 L622.58,630.37 L624.80,630.18 L627.00,630.00 Z" fill="none" stroke="rgb(70,125,200)" stroke-opacity="0.62" stroke-width="3.4" stroke-linejoin="round"/></g>
<g mask="url(#mg)"><path d="M41.00,631.00 L40.99,629.61 L40.97,628.31 L40.98,626.84 L41.10,625.00 L41.35,622.70 L41.73,619.95 L42.22,616.82 L42.79,613.38 L43.42,609.70 L44.09,605.84 L44.79,601.87 L45.49,597.86 L46.16,593.88 L46.80,590.00 L47.53,585.34 L48.28,580.48 L49.03,575.48 L49.80,570.37 L50.57,565.20 L51.36,560.02 L52.16,554.86 L52.96,549.78 L53.78,544.81 L54.60,540.00 L55.35,535.79 L56.12,531.61 L56.91,527.48 L57.70,523.39 L58.50,519.35 L59.30,515.36 L60.10,511.43 L60.88,507.56 L61.65,503.75 L62.40,500.00 L63.04,496.82 L63.66,493.72 L64.28,490.68 L64.89,487.69 L65.49,484.73 L66.10,481.79 L66.70,478.86 L67.30,475.93 L67.90,472.98 L68.50,470.00 L69.10,466.97 L69.69,463.90 L70.27,460.80 L70.85,457.70 L71.44,454.61 L72.02,451.55 L72.62,448.54 L73.23,445.60 L73.85,442.74 L74.50,440.00 L75.06,437.79 L75.64,435.61 L76.23,433.47 L76.84,431.36 L77.45,429.30 L78.05,427.30 L78.65,425.36 L79.22,423.49 L79.78,421.70 L80.30,420.00 L80.87,418.13 L81.41,416.41 L81.92,414.78 L82.43,413.20 L82.95,411.62 L83.50,410.00 L84.08,408.30 L84.66,406.57 L85.26,404.84 L85.88,403.15 L86.53,401.52 L87.20,400.00 L88.07,398.20 L88.96,396.51 L89.92,394.93 L91.00,393.50 L92.15,392.19 L93.40,390.93 L94.71,389.92 L96.00,389.40 L97.46,389.46 L98.93,390.03 L100.30,391.00 L101.21,392.03 L102.04,393.39 L102.81,394.96 L103.55,396.66 L104.27,398.37 L105.00,400.00 L105.75,401.63 L106.49,403.28 L107.20,404.95 L107.91,406.64 L108.61,408.32 L109.30,410.00 L109.98,411.66 L110.64,413.33 L111.30,415.00 L111.96,416.67 L112.62,418.34 L113.30,420.00 L114.00,421.67 L114.71,423.34 L115.43,425.00 L116.15,426.67 L116.88,428.33 L117.60,430.00 L118.31,431.66 L118.99,433.31 L119.68,434.95 L120.39,436.62 L121.16,438.33 L122.00,440.11 L122.76,441.64 L123.56,443.21 L124.41,444.82 L125.29,446.46 L126.20,448.12 L127.13,449.80 L128.08,451.49 L129.04,453.18 L130.00,454.86 L130.93,456.48 L131.88,458.11 L132.85,459.75 L133.83,461.40 L134.82,463.06 L135.83,464.72 L136.85,466.38 L137.88,468.04 L138.94,469.70 L140.00,471.36 L141.13,473.10 L142.27,474.84 L143.44,476.58 L144.61,478.32 L145.80,480.07 L147.01,481.81 L148.24,483.56 L149.47,485.29 L150.73,487.03 L152.00,488.75 L153.33,490.52 L154.67,492.29 L156.03,494.06 L157.40,495.83 L158.79,497.59 L160.20,499.34 L161.63,501.09 L163.07,502.83 L164.53,504.56 L166.00,506.28 L167.52,508.03 L169.06,509.77 L170.62,511.50 L172.20,513.23 L173.79,514.95 L175.40,516.65 L177.02,518.35 L178.67,520.04 L180.32,521.71 L182.00,523.37 L183.72,525.05 L185.46,526.71 L187.22,528.37 L189.00,530.01 L190.79,531.65 L192.60,533.27 L194.42,534.87 L196.27,536.47 L198.13,538.05 L200.00,539.61 L201.92,541.18 L203.84,542.74 L205.78,544.28 L207.74,545.80 L209.71,547.31 L211.71,548.81 L213.73,550.30 L215.79,551.79 L217.87,553.27 L220.00,554.75 L222.35,556.35 L224.73,557.95 L227.15,559.55 L229.61,561.13 L232.10,562.71 L234.62,564.28 L237.17,565.83 L239.75,567.37 L242.36,568.90 L245.00,570.40 L247.85,571.99 L250.73,573.57 L253.66,575.13 L256.61,576.67 L259.60,578.20 L262.62,579.71 L265.67,581.20 L268.76,582.68 L271.86,584.13 L275.00,585.56 L278.35,587.05 L281.74,588.52 L285.16,589.98 L288.62,591.41 L292.11,592.81 L295.63,594.20 L299.18,595.56 L302.76,596.90 L306.37,598.21 L310.00,599.50 L313.85,600.83 L317.72,602.13 L321.61,603.41 L325.53,604.66 L329.49,605.88 L333.49,607.08 L337.53,608.26 L341.63,609.41 L345.78,610.54 L350.00,611.64 L354.75,612.84 L359.61,614.02 L364.54,615.17 L369.55,616.29 L374.60,617.38 L379.68,618.44 L384.78,619.46 L389.88,620.44 L394.96,621.37 L400.00,622.25 L405.06,623.07 L410.25,623.84 L415.52,624.56 L420.80,625.23 L426.05,625.87 L431.22,626.48 L436.25,627.07 L441.09,627.64 L445.69,628.21 L450.00,628.77 L452.85,629.17 L455.55,629.57 L458.13,629.97 L460.61,630.35 L463.03,630.73 L465.41,631.09 L467.76,631.43 L470.13,631.75 L472.53,632.04 L475.00,632.30 L477.47,632.52 L479.90,632.72 L482.31,632.88 L484.71,633.02 L487.13,633.14 L489.57,633.25 L492.07,633.34 L494.62,633.43 L497.26,633.52 L500.00,633.60 L503.67,633.70 L507.59,633.78 L511.68,633.85 L515.89,633.90 L520.16,633.93 L524.40,633.96 L528.58,633.98 L532.61,633.99 L536.44,634.00 L540.00,634.00 L542.46,634.00 L544.81,633.99 L547.06,633.98 L549.25,633.97 L551.38,633.95 L553.48,633.93 L555.57,633.90 L557.67,633.87 L559.81,633.84 L562.00,633.80 L564.29,633.76 L566.59,633.72 L568.91,633.68 L571.24,633.63 L573.57,633.58 L575.89,633.53 L578.20,633.46 L580.50,633.39 L582.76,633.30 L585.00,633.20 L587.05,633.09 L589.08,632.98 L591.07,632.85 L593.06,632.71 L595.03,632.57 L597.00,632.42 L598.98,632.27 L600.96,632.11 L602.97,631.96 L605.00,631.80 L607.16,631.63 L609.33,631.46 L611.52,631.28 L613.73,631.10 L615.94,630.92 L618.15,630.74 L620.37,630.55 L622.58,630.37 L624.80,630.18 L627.00,630.00 Z" fill="none" stroke="rgb(59,111,221)" stroke-width="3.4" stroke-linejoin="round"/></g>
<line x1="35.5" y1="1.5" x2="35.5" y2="631.3" stroke="#2b2b2b" stroke-width="5" stroke-linecap="round"/>
<line x1="35.5" y1="631.3" x2="737.3" y2="631.3" stroke="#2b2b2b" stroke-width="4.8" stroke-linecap="round"/>
<rect x="33" y="628.9" width="5" height="4.8" fill="#2b2b2b"/>
<line x1="44" y1="555.5" x2="722" y2="555.5" stroke="#2b2b2b" stroke-width="2.8"/>
<polygon points="37.6,555.5 46.5,548.8 46.5,562.2" fill="#2b2b2b"/>
<polygon points="733,555.5 720.2,548 720.2,563" fill="#2b2b2b"/>
<line x1="80.8" y1="220.8" x2="327.4" y2="31" stroke="#2b2b2b" stroke-width="3" stroke-linecap="round"/>
<circle cx="80.8" cy="220.8" r="6.9" fill="#2b2b2b"/>
<line x1="92" y1="468.8" x2="375.3" y2="84.6" stroke="#2b2b2b" stroke-width="1.7" stroke-linecap="round"/>
<circle cx="92" cy="468.8" r="6.9" fill="#2b2b2b"/>
<line x1="339" y1="498.9" x2="442.6" y2="235.6" stroke="#2b2b2b" stroke-width="2.6" stroke-linecap="round"/>
<circle cx="339" cy="498.9" r="6.9" fill="#2b2b2b"/>
<text x="333.5" y="33.1" font-family="Liberation Sans" font-size="16" font-weight="normal" fill="#dd0000" text-anchor="start" textLength="212" lengthAdjust="spacingAndGlyphs" stroke="#dd0000" stroke-width="1.0">kans op epileptische aanvallen</text>
<text x="386.5" y="88" font-family="Liberation Sans" font-size="20.5" font-weight="normal" fill="#3a7fcf" text-anchor="start" textLength="171.5" lengthAdjust="spacingAndGlyphs" stroke="#3a7fcf" stroke-width="0.8">Matige ontwenning</text>
<text x="386.8" y="112.0" font-family="Liberation Sans" font-size="17.5" font-weight="normal" fill="#2b2b2b" text-anchor="start" textLength="304.5" lengthAdjust="spacingAndGlyphs" stroke="#2b2b2b" stroke-width="1.05">tremor, misselijkheid, snelle hartslag, angst,</text>
<text x="386.8" y="131.2" font-family="Liberation Sans" font-size="17.5" font-weight="normal" fill="#2b2b2b" text-anchor="start" textLength="289" lengthAdjust="spacingAndGlyphs" stroke="#2b2b2b" stroke-width="1.05">hoge bloeddruk, verhoogde temperatuur,</text>
<text x="386.8" y="150.4" font-family="Liberation Sans" font-size="17.5" font-weight="normal" fill="#2b2b2b" text-anchor="start" textLength="374" lengthAdjust="spacingAndGlyphs" stroke="#2b2b2b" stroke-width="1.05">verstoorde slaap, opgejaagdheid, sombere stemming,</text>
<text x="387.5" y="169.6" font-family="Liberation Sans" font-size="14" font-weight="normal" fill="#2b2b2b" text-anchor="start" textLength="10" lengthAdjust="spacingAndGlyphs" stroke="#2b2b2b" stroke-width="0.6">...</text>
<text x="451.8" y="237.6" font-family="Liberation Sans" font-size="20.5" font-weight="normal" fill="#777777" text-anchor="start" textLength="171.5" lengthAdjust="spacingAndGlyphs" stroke="#777777" stroke-width="0.8">Hevige ontwenning</text>
<text x="451.8" y="260.8" font-family="Liberation Sans" font-size="17.5" font-weight="normal" fill="#2b2b2b" text-anchor="start" textLength="187" lengthAdjust="spacingAndGlyphs" stroke="#2b2b2b" stroke-width="1.05">Idem matige ontwenning +</text>
<text x="451.8" y="279.90000000000003" font-family="Liberation Sans" font-size="17.5" font-weight="normal" fill="#2b2b2b" text-anchor="start" textLength="274" lengthAdjust="spacingAndGlyphs" stroke="#2b2b2b" stroke-width="1.05">verwardheid, paranoia, hyperventilatie,</text>
<text x="451.8" y="299.0" font-family="Liberation Sans" font-size="17.5" font-weight="normal" fill="#2b2b2b" text-anchor="start" textLength="207" lengthAdjust="spacingAndGlyphs" stroke="#2b2b2b" stroke-width="1.05">braken, hallucinaties, kans op</text>
<text x="451.8" y="318.1" font-family="Liberation Sans" font-size="17.5" font-weight="normal" fill="#2b2b2b" text-anchor="start" textLength="119" lengthAdjust="spacingAndGlyphs" stroke="#2b2b2b" stroke-width="1.05">delirium tremens</text>
<text x="248.3" y="574.8" font-family="Liberation Sans" font-size="16" font-weight="normal" fill="#333333" text-anchor="start" textLength="288" lengthAdjust="spacingAndGlyphs" stroke="#333333" stroke-width="0.4">Tremor, prikkelbaarheid, slaapproblemen</text>
<text x="329.5" y="694" font-family="Liberation Sans" font-size="26" font-weight="normal" fill="#2b2b2b" text-anchor="start" textLength="70" lengthAdjust="spacingAndGlyphs" stroke="#2b2b2b" stroke-width="0.6">Dagen</text>
<text x="36.4" y="662.3" font-family="Liberation Sans" font-size="21.5" font-weight="normal" fill="#2b2b2b" text-anchor="middle" stroke="#2b2b2b" stroke-width="1.0">0</text>
<text x="86" y="662.3" font-family="Liberation Sans" font-size="21.5" font-weight="normal" fill="#2b2b2b" text-anchor="middle" stroke="#2b2b2b" stroke-width="1.0">1</text>
<text x="133.6" y="662.3" font-family="Liberation Sans" font-size="21.5" font-weight="normal" fill="#2b2b2b" text-anchor="middle" stroke="#2b2b2b" stroke-width="1.0">2</text>
<text x="181.5" y="662.3" font-family="Liberation Sans" font-size="21.5" font-weight="normal" fill="#2b2b2b" text-anchor="middle" stroke="#2b2b2b" stroke-width="1.0">3</text>
<text x="229.8" y="662.3" font-family="Liberation Sans" font-size="21.5" font-weight="normal" fill="#2b2b2b" text-anchor="middle" stroke="#2b2b2b" stroke-width="1.0">4</text>
<text x="278.8" y="662.3" font-family="Liberation Sans" font-size="21.5" font-weight="normal" fill="#2b2b2b" text-anchor="middle" stroke="#2b2b2b" stroke-width="1.0">5</text>
<text x="326.5" y="662.3" font-family="Liberation Sans" font-size="21.5" font-weight="normal" fill="#2b2b2b" text-anchor="middle" stroke="#2b2b2b" stroke-width="1.0">6</text>
<text x="375" y="662.3" font-family="Liberation Sans" font-size="21.5" font-weight="normal" fill="#2b2b2b" text-anchor="middle" stroke="#2b2b2b" stroke-width="1.0">7</text>
<text x="422" y="662.3" font-family="Liberation Sans" font-size="21.5" font-weight="normal" fill="#2b2b2b" text-anchor="middle" stroke="#2b2b2b" stroke-width="1.0">8</text>
<text x="470.5" y="662.3" font-family="Liberation Sans" font-size="21.5" font-weight="normal" fill="#2b2b2b" text-anchor="middle" stroke="#2b2b2b" stroke-width="1.0">9</text>
<text x="519.3" y="662.3" font-family="Liberation Sans" font-size="21.5" font-weight="normal" fill="#2b2b2b" text-anchor="middle" stroke="#2b2b2b" stroke-width="1.0">10</text>
<text x="566.3" y="662.3" font-family="Liberation Sans" font-size="21.5" font-weight="normal" fill="#2b2b2b" text-anchor="middle" stroke="#2b2b2b" stroke-width="1.0">11</text>
<text x="614.8" y="662.3" font-family="Liberation Sans" font-size="21.5" font-weight="normal" fill="#2b2b2b" text-anchor="middle" stroke="#2b2b2b" stroke-width="1.0">12</text>
<text x="662.1" y="662.3" font-family="Liberation Sans" font-size="21.5" font-weight="normal" fill="#2b2b2b" text-anchor="middle" stroke="#2b2b2b" stroke-width="1.0">13</text>
<text x="711.3" y="662.3" font-family="Liberation Sans" font-size="21.5" font-weight="normal" fill="#2b2b2b" text-anchor="middle" stroke="#2b2b2b" stroke-width="1.0">14</text>
<text x="9.5" y="73.3" font-family="Liberation Sans" font-size="25" font-weight="normal" fill="#2b2b2b" text-anchor="middle" stroke="#2b2b2b" stroke-width="0.6">E</text>
<text x="9.5" y="102.1" font-family="Liberation Sans" font-size="25" font-weight="normal" fill="#2b2b2b" text-anchor="middle" stroke="#2b2b2b" stroke-width="0.6">R</text>
<text x="9.5" y="130.9" font-family="Liberation Sans" font-size="25" font-weight="normal" fill="#2b2b2b" text-anchor="middle" stroke="#2b2b2b" stroke-width="0.6">N</text>
<text x="9.5" y="159.8" font-family="Liberation Sans" font-size="25" font-weight="normal" fill="#2b2b2b" text-anchor="middle" stroke="#2b2b2b" stroke-width="0.6">S</text>
<text x="9.5" y="188.6" font-family="Liberation Sans" font-size="25" font-weight="normal" fill="#2b2b2b" text-anchor="middle" stroke="#2b2b2b" stroke-width="0.6">T</text>
<text x="9.5" y="246.2" font-family="Liberation Sans" font-size="25" font-weight="normal" fill="#2b2b2b" text-anchor="middle" stroke="#2b2b2b" stroke-width="0.6">S</text>
<text x="9.5" y="275.0" font-family="Liberation Sans" font-size="25" font-weight="normal" fill="#2b2b2b" text-anchor="middle" stroke="#2b2b2b" stroke-width="0.6">y</text>
<text x="9.5" y="303.9" font-family="Liberation Sans" font-size="25" font-weight="normal" fill="#2b2b2b" text-anchor="middle" stroke="#2b2b2b" stroke-width="0.6">m</text>
<text x="9.5" y="332.7" font-family="Liberation Sans" font-size="25" font-weight="normal" fill="#2b2b2b" text-anchor="middle" stroke="#2b2b2b" stroke-width="0.6">p</text>
<text x="9.5" y="361.5" font-family="Liberation Sans" font-size="25" font-weight="normal" fill="#2b2b2b" text-anchor="middle" stroke="#2b2b2b" stroke-width="0.6">t</text>
<text x="9.5" y="390.3" font-family="Liberation Sans" font-size="25" font-weight="normal" fill="#2b2b2b" text-anchor="middle" stroke="#2b2b2b" stroke-width="0.6">o</text>
<text x="9.5" y="419.1" font-family="Liberation Sans" font-size="25" font-weight="normal" fill="#2b2b2b" text-anchor="middle" stroke="#2b2b2b" stroke-width="0.6">m</text>
<text x="9.5" y="448.0" font-family="Liberation Sans" font-size="25" font-weight="normal" fill="#2b2b2b" text-anchor="middle" stroke="#2b2b2b" stroke-width="0.6">e</text>
<text x="9.5" y="476.8" font-family="Liberation Sans" font-size="25" font-weight="normal" fill="#2b2b2b" text-anchor="middle" stroke="#2b2b2b" stroke-width="0.6">n</text>

</svg>
</body></html>
